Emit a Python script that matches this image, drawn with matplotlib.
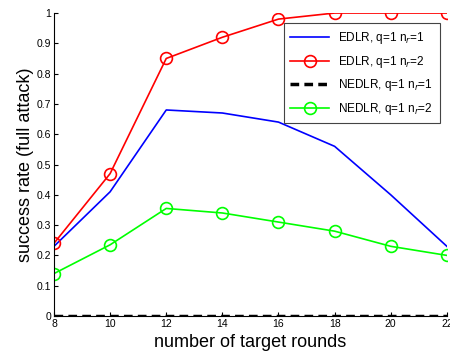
import matplotlib
matplotlib.use('Agg')
import matplotlib.pyplot as plt

rounds = [8, 10, 12, 14, 16, 18, 20, 22]
edlr_nr1 = [0.23, 0.41, 0.68, 0.67, 0.64, 0.56, 0.40, 0.23]
edlr_nr2 = [0.24, 0.47, 0.85, 0.92, 0.98, 1.0, 1.0, 1.0]
nedlr_nr1 = [0, 0, 0, 0, 0, 0, 0, 0]
nedlr_nr2 = [0.14, 0.235, 0.355, 0.34, 0.31, 0.28, 0.23, 0.20]

plt.rcParams['font.family'] = ['Liberation Sans', 'DejaVu Sans']

fig = plt.figure(figsize=(4.5, 3.56), dpi=100)
ax = fig.add_axes([0.12, 0.1124, 0.873, 0.851])

ax.plot(rounds, edlr_nr1, color='#0000ff', lw=1.2, label='EDLR, q=1 n$_r$=1')
ax.plot(rounds, edlr_nr2, color='#ff0000', lw=1.2, marker='o', ms=8.5, mfc='none',
        mew=1.2, label='EDLR, q=1 n$_r$=2')
ax.plot(rounds, nedlr_nr1, color='black', lw=2.5, ls=(0, (2.5, 1.5)),
        label='NEDLR, q=1 n$_r$=1')
ax.plot(rounds, nedlr_nr2, color='#00ff00', lw=1.2, marker='o', ms=8.5, mfc='none',
        mew=1.2, label='NEDLR, q=1 n$_r$=2')

ax.set_xlim(8, 22)
ax.set_ylim(0, 1)
ax.set_xticks(rounds)
ax.set_yticks([0, 0.1, 0.2, 0.3, 0.4, 0.5, 0.6, 0.7, 0.8, 0.9, 1])
ax.set_yticklabels(['0', '0.1', '0.2', '0.3', '0.4', '0.5', '0.6', '0.7', '0.8', '0.9', '1'])
ax.tick_params(direction='in', labelsize=7.5, length=3, pad=2)
for s in ['top', 'right']:
    ax.spines[s].set_visible(False)

ax.set_xlabel('number of target rounds', fontsize=13, labelpad=4)
ax.set_ylabel('success rate (full attack)', fontsize=13, labelpad=2)

leg = ax.legend(loc='upper right', bbox_to_anchor=(0.997, 0.985), fontsize=8.5,
                fancybox=False, edgecolor='#444444', framealpha=1,
                handlelength=3.3, borderpad=0.55, labelspacing=0.65)
leg.get_frame().set_linewidth(0.8)

fig.savefig('out.png', dpi=100)
